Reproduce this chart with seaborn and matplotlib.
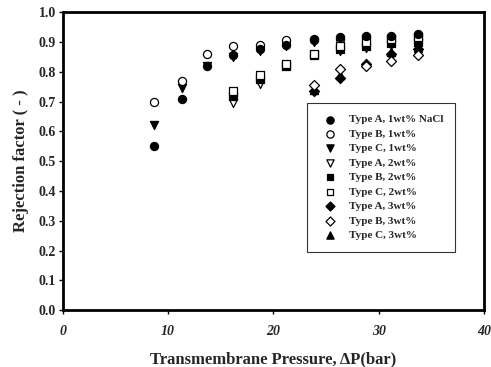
import matplotlib
matplotlib.use("Agg")
import matplotlib.pyplot as plt
import seaborn as sns
import pandas as pd

# Data
x_1wt = [8.7, 11.3, 13.7, 16.2, 18.7, 21.2, 23.8, 26.3, 28.8, 31.2, 33.7]
a_1wt = [0.55, 0.71, 0.82, 0.855, 0.875, 0.89, 0.91, 0.915, 0.92, 0.92, 0.925]
b_1wt = [0.70, 0.77, 0.86, 0.885, 0.89, 0.905, 0.905, 0.91, 0.915, 0.915, 0.92]
c_1wt = [0.62, 0.745, 0.82, 0.85, 0.87, 0.885, 0.90, 0.905, 0.91, 0.91, 0.915]

x_2wt = [16.2, 18.7, 21.2, 23.8, 26.3, 28.8, 31.2, 33.7]
a_2wt = [0.695, 0.76, 0.82, 0.855, 0.87, 0.88, 0.89, 0.895]
b_2wt = [0.72, 0.775, 0.82, 0.855, 0.875, 0.885, 0.895, 0.90]
c_2wt = [0.735, 0.79, 0.825, 0.86, 0.885, 0.90, 0.91, 0.915]

x_3wt = [23.8, 26.3, 28.8, 31.2, 33.7]
a_3wt = [0.735, 0.78, 0.825, 0.86, 0.875]
b_3wt = [0.755, 0.81, 0.82, 0.835, 0.855]
c_3wt = [0.74, 0.79, 0.83, 0.865, 0.88]

labels = ["Type A, 1wt% NaCl", "Type B, 1wt%", "Type C, 1wt%",
          "Type A, 2wt%", "Type B, 2wt%", "Type C, 2wt%",
          "Type A, 3wt%", "Type B, 3wt%", "Type C, 3wt%"]

x_ticks = [0, 10, 20, 30, 40]
y_ticks = [0.0, 0.1, 0.2, 0.3, 0.4, 0.5, 0.6, 0.7, 0.8, 0.9, 1.0]

series = [
    (x_1wt, a_1wt, "o", True, 34, 5),
    (x_1wt, b_1wt, "o", False, 34, 4),
    (x_1wt, c_1wt, "v", True, 34, 3),
    (x_2wt, a_2wt, "v", False, 34, 3),
    (x_2wt, b_2wt, "s", True, 28, 3),
    (x_2wt, c_2wt, "s", False, 28, 4),
    (x_3wt, a_3wt, "D", True, 26, 3),
    (x_3wt, b_3wt, "D", False, 26, 4),
    (x_3wt, c_3wt, "^", True, 34, 3),
]

sns.set_style("white")
plt.rcParams["font.family"] = ["Liberation Serif", "DejaVu Serif"]
plt.rcParams["font.weight"] = "bold"

fig = plt.figure(figsize=(4.91, 3.67), dpi=100)
ax = fig.add_axes([0.128, 0.155, 0.858, 0.812])

for (xs, ys, m, filled, s, z), lab in zip(series, labels):
    df = pd.DataFrame({"x": xs, "y": ys})
    sns.scatterplot(data=df, x="x", y="y", ax=ax, marker=m, s=s,
                    color="black" if filled else "white",
                    edgecolor="black", linewidth=0.9, label=lab, zorder=z)

ax.set_xlim(0, 40)
ax.set_ylim(0, 1.0)
ax.set_xticks(x_ticks)
ax.set_yticks(y_ticks)
ax.set_xticklabels([str(t) for t in x_ticks], fontsize=10, fontweight="bold", fontstyle="italic")
ax.set_yticklabels([f"{t:.1f}" for t in y_ticks], fontsize=10, fontweight="bold")
ax.tick_params(axis="both", direction="out", length=3, width=1, color="black", pad=2,
               bottom=True, left=True)
ax.tick_params(axis="x", pad=8)
for sp in ax.spines.values():
    sp.set_linewidth(2)
    sp.set_color("black")

ax.set_xlabel("Transmembrane Pressure, ΔP(bar)", fontsize=12, fontweight="bold", labelpad=9)
ax.set_ylabel("Rejection factor ( - )", fontsize=12, fontweight="bold", labelpad=7)

leg = ax.legend(loc="upper left", bbox_to_anchor=(0.58, 0.695), frameon=True,
                fancybox=False, edgecolor="black",
                prop={"weight": "bold", "size": 8}, handletextpad=0.7,
                labelspacing=0.42, borderpad=1.05, markerscale=0.9,
                borderaxespad=0)
leg.get_frame().set_linewidth(0.8)

fig.savefig("out.png", dpi=100)
